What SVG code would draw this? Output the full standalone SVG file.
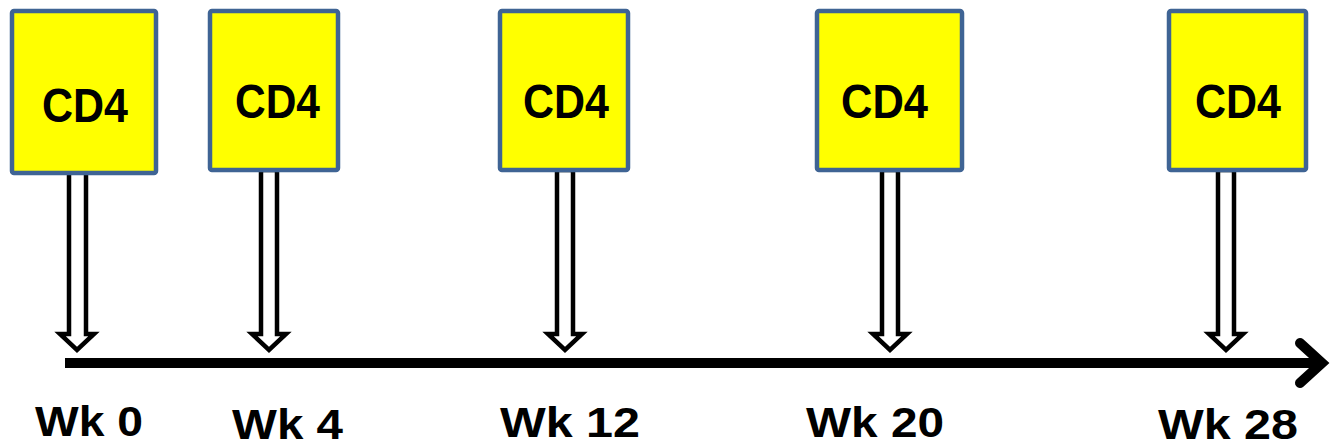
<svg xmlns="http://www.w3.org/2000/svg" width="1330" height="448" viewBox="0 0 1330 448">
<style>
.box{fill:#FFFF00;stroke:#3F6494;stroke-width:4.5}
.lbl{font-family:"Liberation Sans",Arial,sans-serif;font-weight:bold;fill:#000}
.cd{font-size:48px}
.wk{font-size:43px}
.arr{fill:#fff;stroke:#000;stroke-width:4.5;stroke-linejoin:miter}
</style>
<g id="connectors">
<path class="arr" d="M69,172 L69,334 L60,334 L77,350 L94,334 L86,334 L86,172 Z"/>
<path class="arr" d="M261,170 L261,334 L252,334 L269,350 L286,334 L277,334 L277,170 Z"/>
<path class="arr" d="M557,170 L557,334 L548,334 L565,350 L582,334 L573,334 L573,170 Z"/>
<path class="arr" d="M882,170 L882,334 L873,334 L890,350 L907,334 L898,334 L898,170 Z"/>
<path class="arr" d="M1218,170 L1218,334 L1209,334 L1226,350 L1243,334 L1234,334 L1234,170 Z"/>
<g id="timeline">
<line x1="65" y1="363" x2="1320" y2="363" stroke="#000" stroke-width="10"/>
<polyline points="1300,343 1322,363 1300,383" fill="none" stroke="#000" stroke-width="10" stroke-linecap="round" stroke-linejoin="miter"/>
</g>
</g>
<g id="node-wk0"><rect class="box" x="12" y="11" width="144" height="162" rx="2"/><text class="lbl cd" x="42" y="122" textLength="86" lengthAdjust="spacingAndGlyphs">CD4</text></g>
<g id="node-wk4"><rect class="box" x="210" y="11" width="128" height="159" rx="2"/><text class="lbl cd" x="235" y="118" textLength="85" lengthAdjust="spacingAndGlyphs">CD4</text></g>
<g id="node-wk12"><rect class="box" x="500" y="11" width="128" height="159" rx="2"/><text class="lbl cd" x="523" y="118" textLength="86" lengthAdjust="spacingAndGlyphs">CD4</text></g>
<g id="node-wk20"><rect class="box" x="817" y="11" width="145" height="159" rx="2"/><text class="lbl cd" x="841" y="118" textLength="87" lengthAdjust="spacingAndGlyphs">CD4</text></g>
<g id="node-wk28"><rect class="box" x="1169" y="11" width="137" height="159" rx="2"/><text class="lbl cd" x="1195" y="118" textLength="86" lengthAdjust="spacingAndGlyphs">CD4</text></g>
<g id="labels">
<text class="lbl wk" x="35" y="436" textLength="108" lengthAdjust="spacingAndGlyphs">Wk 0</text>
<text class="lbl wk" x="232" y="439" textLength="111" lengthAdjust="spacingAndGlyphs">Wk 4</text>
<text class="lbl wk" x="500" y="437" textLength="140" lengthAdjust="spacingAndGlyphs">Wk 12</text>
<text class="lbl wk" x="806" y="437" textLength="138" lengthAdjust="spacingAndGlyphs">Wk 20</text>
<text class="lbl wk" x="1158" y="439" textLength="140" lengthAdjust="spacingAndGlyphs">Wk 28</text>
</g>
</svg>
